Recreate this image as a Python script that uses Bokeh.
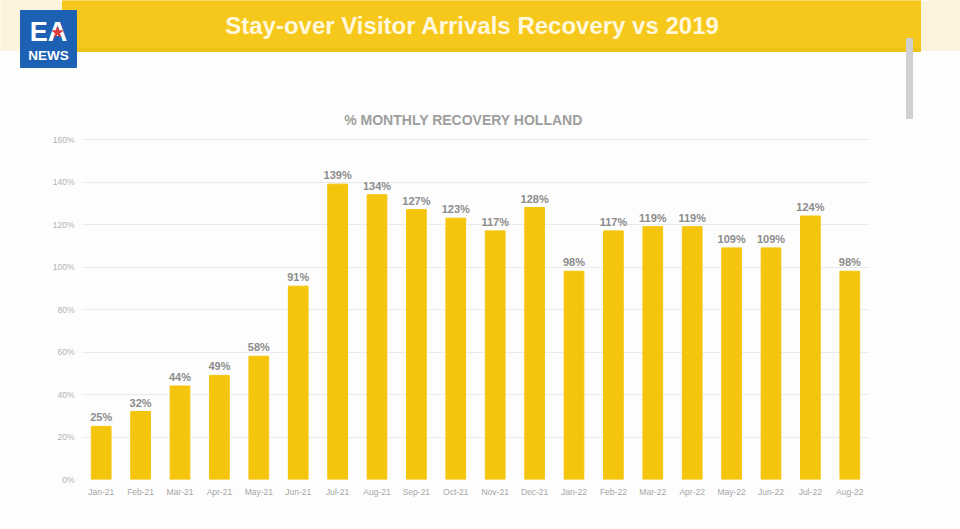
from bokeh.plotting import figure
from bokeh.models import Range1d, FixedTicker, PrintfTickFormatter, ColumnDataSource
from bokeh.layouts import column
from bokeh.embed import file_html
from bokeh.resources import INLINE
from bokeh.core.properties import value

# ---- data ----
months = ["Jan-21", "Feb-21", "Mar-21", "Apr-21", "May-21", "Jun-21", "Jul-21",
          "Aug-21", "Sep-21", "Oct-21", "Nov-21", "Dec-21", "Jan-22", "Feb-22",
          "Mar-22", "Apr-22", "May-22", "Jun-22", "Jul-22", "Aug-22"]
recovery = [25, 32, 44, 49, 58, 91, 139, 134, 127, 123, 117, 128,
            98, 117, 119, 119, 109, 109, 124, 98]
y_ticks = [0, 20, 40, 60, 80, 100, 120, 140, 160]
header_title = "Stay-over Visitor Arrivals Recovery vs 2019"
chart_title = "% MONTHLY RECOVERY HOLLAND"

FONT = value("Liberation Sans")
BAR = "#f5c50e"
BG = "#fdfdfd"
HDR_H = 132

# ---- header figure (pixel space) ----
hdr = figure(width=960, height=HDR_H, x_range=Range1d(0, 960), y_range=Range1d(HDR_H, 0),
             output_backend="svg", toolbar_location=None, min_border=0,
             x_axis_type=None, y_axis_type=None)
hdr.frame_align = False
hdr.grid.visible = False
hdr.outline_line_color = None
hdr.background_fill_color = BG
hdr.border_fill_color = BG

hdr.quad(left=[0], right=[960], top=[0], bottom=[50], color="#fbf3dc")
hdr.quad(left=[62], right=[920], top=[0], bottom=[50], color="#f7c81c")
hdr.quad(left=[62], right=[920], top=[48], bottom=[51], color="#efc21a")
hdr.quad(left=[906], right=[912], top=[38], bottom=[118], color="#d0d0d0")

hdr.text(x=[472], y=[25], text=[header_title], text_align="center", text_baseline="middle",
         text_font=FONT, text_font_style="bold", text_font_size="24px", text_color="#fff8dc")

# logo
hdr.quad(left=[20], right=[76], top=[10], bottom=[67], color="#1d61b4")
hdr.text(x=[48], y=[31], text=["EA"], text_align="center", text_baseline="middle",
         text_font=FONT, text_font_style="bold", text_font_size="27px", text_color="white")
hdr.scatter(x=[57], y=[32], marker="star", size=11, color="#e03a3a")
hdr.text(x=[48], y=[55], text=["NEWS"], text_align="center", text_baseline="middle",
         text_font=FONT, text_font_style="bold", text_font_size="13.5px", text_color="white")

hdr.text(x=[463], y=[119], text=[chart_title], text_align="center", text_baseline="middle",
         text_font=FONT, text_font_style="bold", text_font_size="14px", text_color="#9e9e9e")

# ---- main chart ----
src = ColumnDataSource(dict(month=months, value=recovery,
                            label=[f"{v}%" for v in recovery]))

p = figure(width=960, height=529 - HDR_H, x_range=months,
           y_range=Range1d(0, (479 - HDR_H) / 2.125),
           output_backend="svg", toolbar_location=None,
           min_border_left=81, min_border_right=91, min_border_top=0, min_border_bottom=50)
p.frame_align = False
p.outline_line_color = None
p.background_fill_color = BG
p.border_fill_color = BG

p.vbar(x="month", top="value", width=0.5, color=BAR, source=src)
p.text(x="month", y="value", text="label", source=src, text_align="center",
       text_baseline="bottom", y_offset=-3, text_font=FONT, text_font_style="bold",
       text_font_size="11px", text_color="#8c8c8c")

p.xgrid.visible = False
p.ygrid.ticker = FixedTicker(ticks=y_ticks)
p.ygrid.grid_line_color = "#ebebeb"

for ax in (p.xaxis, p.yaxis):
    ax.axis_line_color = None
    ax.major_tick_line_color = None
    ax.minor_tick_line_color = None
    ax.major_tick_out = 0
    ax.major_tick_in = 0
    ax.minor_tick_out = 0
    ax.major_label_text_font = "Liberation Sans"

p.yaxis.ticker = FixedTicker(ticks=y_ticks)
p.yaxis.formatter = PrintfTickFormatter(format="%d%%")
p.yaxis.major_label_standoff = 7
p.yaxis.major_label_text_font_size = "8.5px"
p.yaxis.major_label_text_color = "#b3b3b3"

p.xaxis.major_label_standoff = 7
p.xaxis.major_label_text_font_size = "8.5px"
p.xaxis.major_label_text_color = "#a6a6a6"

layout = column(hdr, p, spacing=0)
open("out.html", "w").write(file_html(layout, INLINE))
